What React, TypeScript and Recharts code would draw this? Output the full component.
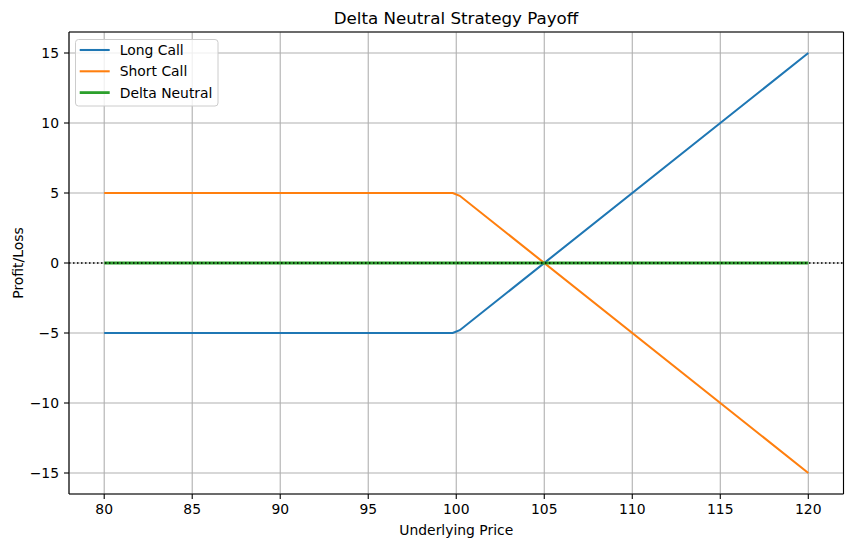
import React from "react";
import {
  LineChart,
  Line,
  XAxis,
  YAxis,
  CartesianGrid,
  ReferenceLine,
  Legend,
} from "recharts";

// ---- data ----
const prices = [80, 99.8, 100.2, 120];
const longCall = [-5, -5, -4.8, 15];
const shortCall = [5, 5, 4.8, -15];
const deltaNeutral = [0, 0, 0, 0];

const xTicks = [80, 85, 90, 95, 100, 105, 110, 115, 120];
const yTicks = [-15, -10, -5, 0, 5, 10, 15];

const seriesNames = ["Long Call", "Short Call", "Delta Neutral"];
const seriesColors = ["#1f77b4", "#ff7f0e", "#2ca02c"];
const seriesWidths = [2.08, 2.08, 2.78];

const title = "Delta Neutral Strategy Payoff";
const xLabel = "Underlying Price";
const yLabel = "Profit/Loss";

const data = prices.map((p, i) => ({
  price: p,
  longCall: longCall[i],
  shortCall: shortCall[i],
  deltaNeutral: deltaNeutral[i],
}));
const keys = ["longCall", "shortCall", "deltaNeutral"];

const FONT = "'DejaVu Sans', sans-serif";
const FS = 13.9;
const X_DOMAIN: [number, number] = [78, 122];
const Y_DOMAIN: [number, number] = [-16.5, 16.5];

const fmt = (v: number) => String(v).replace("-", "\u2212");

const LegendBox = () => (
  <svg width={144} height={68} style={{ display: "block" }}>
    <rect
      x={0.5}
      y={0.5}
      width={142.5}
      height={66.5}
      rx={3}
      ry={3}
      fill="rgba(255,255,255,0.8)"
      stroke="#cccccc"
      strokeWidth={1}
    />
    {seriesNames.map((n, i) => {
      const cy = 11 + i * 21.3;
      return (
        <g key={n}>
          <line
            x1={4.7}
            x2={34.7}
            y1={cy}
            y2={cy}
            stroke={seriesColors[i]}
            strokeWidth={seriesWidths[i]}
          />
          <text
            x={44.7}
            y={cy}
            dominantBaseline="central"
            fontFamily={FONT}
            fontSize={FS}
            fill="#000"
          >
            {n}
          </text>
        </g>
      );
    })}
  </svg>
);

export default function App() {
  return (
    <div
      style={{
        position: "absolute",
        left: 0,
        top: 0,
        width: 853,
        height: 547,
        background: "#fff",
      }}
    >
      <LineChart
        width={853}
        height={547}
        data={data}
        margin={{ top: 32, right: 9.5, bottom: 23, left: 0 }}
      >
        <CartesianGrid stroke="#b0b0b0" strokeWidth={1.1} />
        <XAxis
          dataKey="price"
          type="number"
          domain={X_DOMAIN}
          ticks={xTicks}
          allowDataOverflow
          height={30}
          tickSize={5}
          tickMargin={5}
          interval={0}
          axisLine={{ stroke: "#000", strokeWidth: 1.1 }}
          tickLine={{ stroke: "#000", strokeWidth: 1.1 }}
          tick={{ fill: "#000", fontSize: FS, fontFamily: FONT }}
          label={{
            value: xLabel,
            position: "bottom",
            offset: 1,
            fill: "#000",
            fontSize: FS,
            fontFamily: FONT,
          }}
        />
        <YAxis
          type="number"
          domain={Y_DOMAIN}
          ticks={yTicks}
          allowDataOverflow
          width={69}
          tickSize={5}
          tickMargin={5}
          interval={0}
          tickFormatter={fmt}
          axisLine={{ stroke: "#000", strokeWidth: 1.1 }}
          tickLine={{ stroke: "#000", strokeWidth: 1.1 }}
          tick={{ fill: "#000", fontSize: FS, fontFamily: FONT }}
        />
        {keys.map((k, i) => (
          <Line
            key={k}
            dataKey={k}
            name={seriesNames[i]}
            type="linear"
            stroke={seriesColors[i]}
            strokeWidth={seriesWidths[i]}
            dot={false}
            activeDot={false}
            isAnimationActive={false}
          />
        ))}
        <ReferenceLine
          y={0}
          stroke="#000"
          strokeWidth={1.5}
          strokeDasharray="1.5 2.5"
        />
        <ReferenceLine
          y={Y_DOMAIN[1]}
          stroke="#000"
          strokeWidth={1.1}
          ifOverflow="visible"
        />
        <ReferenceLine
          x={X_DOMAIN[1]}
          stroke="#000"
          strokeWidth={1.1}
          ifOverflow="visible"
        />
        <Legend
          verticalAlign="middle"
          align="center"
          layout="vertical"
          wrapperStyle={{ left: 75, top: 39, width: 144, height: 68 }}
          content={() => <LegendBox />}
        />
      </LineChart>
      <svg
        width={853}
        height={547}
        style={{ position: "absolute", left: 0, top: 0, pointerEvents: "none" }}
      >
        <text
          x={456}
          y={23.5}
          textAnchor="middle"
          fontFamily={FONT}
          fontSize={16.7}
          fill="#000"
        >
          {title}
        </text>
        <text
          x={22.5}
          y={263}
          transform="rotate(-90 22.5 263)"
          textAnchor="middle"
          fontFamily={FONT}
          fontSize={FS}
          fill="#000"
        >
          {yLabel}
        </text>
      </svg>
    </div>
  );
}
